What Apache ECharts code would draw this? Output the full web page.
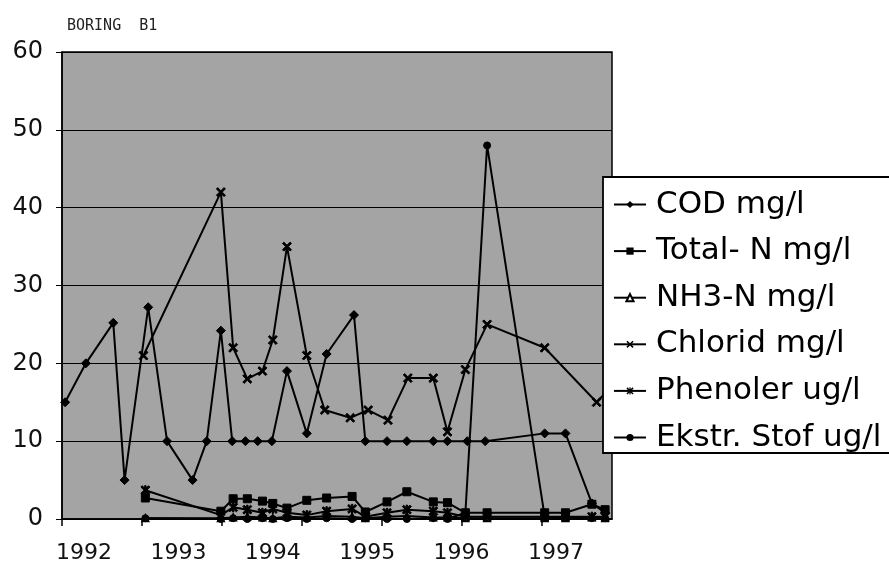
<!DOCTYPE html>
<html><head><meta charset="utf-8">
<script src="https://cdn.jsdelivr.net/npm/echarts@6/dist/echarts.min.js"></script>
<style>html,body{margin:0;padding:0;background:#fff}#c{width:889px;height:567px}</style>
</head><body><div id="c"></div>
<script>
const titleText = 'BORING  B1';
const yearLabels = [1992, 1993, 1994, 1995, 1996, 1997];
const seriesNames = ['COD mg/l', 'Total- N mg/l', 'NH3-N mg/l', 'Chlorid mg/l', 'Phenoler ug/l', 'Ekstr. Stof ug/l'];

const codDates = [1991.80, 1992.02, 1992.31, 1992.43, 1992.68, 1992.88, 1993.15, 1993.30, 1993.45, 1993.57, 1993.71, 1993.84, 1993.99, 1994.15, 1994.36, 1994.57, 1994.86, 1994.98, 1995.21, 1995.42, 1995.70, 1995.85, 1996.06, 1996.25, 1996.88, 1997.10, 1997.38, 1997.52];
const codValues = [15, 20, 25.2, 5, 27.2, 10, 5, 10, 24.2, 10, 10, 10, 10, 19, 11, 21.2, 26.2, 10, 10, 10, 10, 10, 10, 10, 11, 11, 2, 0.8];

const chloridDates = [1992.63, 1993.45, 1993.58, 1993.73, 1993.89, 1994.00, 1994.15, 1994.36, 1994.55, 1994.82, 1995.01, 1995.22, 1995.43, 1995.70, 1995.85, 1996.04, 1996.27, 1996.88, 1997.43, 1997.57];
const chloridValues = [21, 42, 22, 18, 19, 23, 35, 21, 14, 13, 14, 12.7, 18.1, 18.1, 11.2, 19.2, 25, 22, 15, 16.8];

const lowDates = [1992.65, 1993.45, 1993.58, 1993.73, 1993.89, 1994.00, 1994.15, 1994.36, 1994.57, 1994.84, 1994.98, 1995.21, 1995.42, 1995.70, 1995.85, 1996.04, 1996.27, 1996.88, 1997.10, 1997.38, 1997.52];
const totalNValues = [2.7, 1.0, 2.6, 2.6, 2.3, 2.0, 1.4, 2.4, 2.7, 2.9, 0.9, 2.2, 3.5, 2.2, 2.1, 0.8, 0.8, 0.8, 0.8, 1.9, 1.2];
const nh3Values = [0.1, 0.1, 0.2, 0.3, 0.2, 0.1, 0.3, 0.2, 0.4, 0.3, 0.1, 0.3, 0.4, 0.2, 0.2, 0.1, 0.1, 0.1, 0.1, 0.2, 0.1];
const phenolerValues = [3.7, 0.5, 1.5, 1.2, 0.8, 1.3, 0.8, 0.5, 1.0, 1.3, 0.3, 0.8, 1.2, 1.0, 0.8, 0.3, 0.3, 0.3, 0.3, 0.3, 0.3];
const ekstrValues = [0.1, 0.0, 0.1, 0.0, 0.1, 0.0, 0.1, 0.0, 0.1, 0.0, 0.1, 0.0, 0.0, 0.1, 0.0, 0.8, 48, 0.3, 0.2, 0.1, 0.1];

const xMin = 1991.767, xMax = 1997.593, tickStep = 0.8475;
const tickPositions = Array.from({length: 7}, (_, k) => xMin + k * tickStep);

const pair = (d, v) => d.map((x, i) => [x, v[i]]);
const xPath = 'path://M0,1.5L1.5,0L5,3.5L8.5,0L10,1.5L6.5,5L10,8.5L8.5,10L5,6.5L1.5,10L0,8.5L3.5,5Z';
const starPath = 'path://M0,1.5L1.5,0L5,3.5L8.5,0L10,1.5L6.5,5L10,8.5L8.5,10L5,6.5L1.5,10L0,8.5L3.5,5Z M4.2,0L5.8,0L5.8,10L4.2,10Z';

function mk(name, data, symbol, size) {
  return {
    name, type: 'line', data, symbol, symbolSize: size, showSymbol: true,
    lineStyle: {color: '#000', width: 2},
    itemStyle: {color: '#000', borderColor: '#000'},
    emphasis: {disabled: true}, animation: false
  };
}

const chart = echarts.init(document.getElementById('c'), null, {renderer: 'canvas'});
chart.setOption({
  animation: false,
  backgroundColor: '#fff',
  title: {text: titleText, left: 62, top: 14, textStyle: {fontFamily: 'DejaVu Sans Mono', fontSize: 15, fontWeight: 'normal', color: '#222'}},
  grid: {left: 62, top: 52, right: 277, bottom: 48, show: true, backgroundColor: '#a4a4a4', borderColor: '#000', borderWidth: 1.5, containLabel: false},
  xAxis: {
    type: 'value', min: xMin, max: xMax,
    axisLine: {lineStyle: {color: '#000', width: 1.5}},
    axisTick: {show: true, customValues: tickPositions, length: 7, lineStyle: {color: '#000', width: 1.5}},
    axisLabel: {customValues: yearLabels, formatter: v => String(Math.round(v)), fontFamily: 'DejaVu Sans', fontSize: 22, color: '#111', margin: 23},
    splitLine: {show: false}
  },
  yAxis: {
    type: 'value', min: 0, max: 60, interval: 10,
    axisLine: {show: true, lineStyle: {color: '#000', width: 1.5}},
    axisTick: {show: true, length: 6, lineStyle: {color: '#000'}},
    axisLabel: {fontFamily: 'DejaVu Sans', fontSize: 24, color: '#111', margin: 19},
    splitLine: {lineStyle: {color: '#000', width: 1.2}}
  },
  legend: {
    orient: 'vertical', left: 603, top: 177,
    backgroundColor: '#fff', borderColor: '#000', borderWidth: 1.8,
    padding: [12, 10, 0, 10], itemGap: 15.6, itemWidth: 32, itemHeight: 9,
    textStyle: {fontFamily: 'DejaVu Sans', fontSize: 31, color: '#000', lineHeight: 28, padding: [0, 0, 0, 5]},
    data: seriesNames
  },
  series: [
    mk(seriesNames[0], pair(codDates, codValues), 'diamond', 9),
    mk(seriesNames[1], pair(lowDates, totalNValues), 'rect', 8),
    mk(seriesNames[2], pair(lowDates, nh3Values), 'emptyTriangle', 6),
    mk(seriesNames[3], pair(chloridDates, chloridValues), xPath, 9),
    mk(seriesNames[4], pair(lowDates, phenolerValues), starPath, 9),
    mk(seriesNames[5], pair(lowDates, ekstrValues), 'circle', 7)
  ]
});
</script></body></html>
